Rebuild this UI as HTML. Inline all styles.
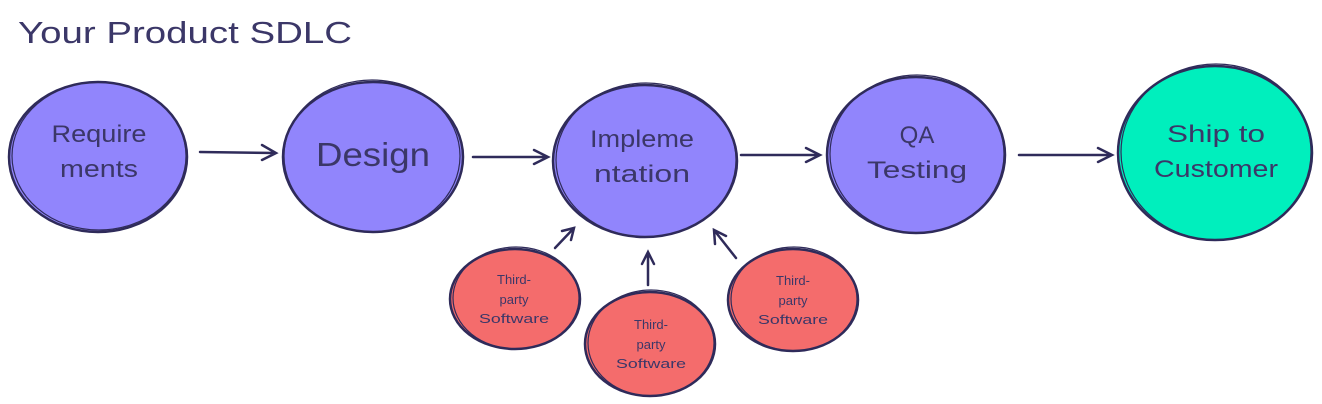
<!DOCTYPE html>
<html><head><meta charset="utf-8"><style>
html,body{margin:0;padding:0;background:#fff;width:1322px;height:404px;overflow:hidden}
svg text{font-family:"Liberation Sans",sans-serif;fill:#3b3768}
</style></head><body>
<svg width="1322" height="404" viewBox="0 0 1322 404" xmlns="http://www.w3.org/2000/svg">
<g stroke="#2f2b5a" stroke-width="2.5">
<ellipse cx="98" cy="157" rx="89" ry="75" fill="#9185fc"/>
<ellipse cx="99" cy="156" rx="87" ry="74" fill="none" stroke-width="1.2"/>
<ellipse cx="373" cy="157" rx="90" ry="75" fill="#9185fc"/>
<ellipse cx="372" cy="156" rx="88" ry="76" fill="none" stroke-width="1.2"/>
<ellipse cx="645" cy="161" rx="92" ry="76" fill="#9185fc"/>
<ellipse cx="646" cy="160" rx="90" ry="77" fill="none" stroke-width="1.2"/>
<ellipse cx="916" cy="155" rx="89" ry="78" fill="#9185fc"/>
<ellipse cx="917" cy="154" rx="87" ry="79" fill="none" stroke-width="1.2"/>
<ellipse cx="1215" cy="153" rx="97" ry="87" fill="#00efbd"/>
<ellipse cx="1216" cy="152" rx="95" ry="88" fill="none" stroke-width="1.2"/>
<ellipse cx="515" cy="299" rx="65" ry="50" fill="#f46c6c"/>
<ellipse cx="516" cy="298" rx="63" ry="51" fill="none" stroke-width="1.2"/>
<ellipse cx="650" cy="344" rx="65" ry="52" fill="#f46c6c"/>
<ellipse cx="651" cy="343" rx="63" ry="53" fill="none" stroke-width="1.2"/>
<ellipse cx="793" cy="300" rx="65" ry="51" fill="#f46c6c"/>
<ellipse cx="794" cy="299" rx="63" ry="52" fill="none" stroke-width="1.2"/>
</g>
<g stroke="#2f2b5a" stroke-width="2.5" fill="none" stroke-linecap="round">
<path d="M200 152 L276 153 M262 145 L276 153 L262 160"/>
<path d="M473 157 L548 157 M534 150 L548 157 L534 164"/>
<path d="M741 155 L820 155 M806 148 L820 155 L806 162"/>
<path d="M1019 155 L1112 155 M1098 148 L1112 155 L1098 162"/>
<path d="M555 248 L574 228 M562 231 L574 228 L571 240"/>
<path d="M648 285 L648 252 M642 264 L648 252 L654 264"/>
<path d="M736 258 L714 230 M715 244 L714 230 L726 236"/>
</g>
<text x="18" y="43" font-size="31" textLength="334" lengthAdjust="spacingAndGlyphs">Your Product SDLC</text>
<g text-anchor="middle">
<text x="99" y="142" font-size="24" textLength="95" lengthAdjust="spacingAndGlyphs">Require</text>
<text x="99" y="177" font-size="24" textLength="78" lengthAdjust="spacingAndGlyphs">ments</text>
<text x="373" y="166" font-size="33" textLength="114" lengthAdjust="spacingAndGlyphs">Design</text>
<text x="642" y="147" font-size="24" textLength="104" lengthAdjust="spacingAndGlyphs">Impleme</text>
<text x="642" y="182" font-size="24" textLength="96" lengthAdjust="spacingAndGlyphs">ntation</text>
<text x="917" y="143" font-size="24">QA</text>
<text x="917" y="178" font-size="24" textLength="100" lengthAdjust="spacingAndGlyphs">Testing</text>
<text x="1216" y="142" font-size="24" textLength="98" lengthAdjust="spacingAndGlyphs">Ship to</text>
<text x="1216" y="177" font-size="24" textLength="124" lengthAdjust="spacingAndGlyphs">Customer</text>
<text x="514" y="284" font-size="13">Third-</text>
<text x="514" y="304" font-size="13">party</text>
<text x="514" y="323" font-size="13" textLength="70" lengthAdjust="spacingAndGlyphs">Software</text>
<text x="651" y="329" font-size="13">Third-</text>
<text x="651" y="349" font-size="13">party</text>
<text x="651" y="368" font-size="13" textLength="70" lengthAdjust="spacingAndGlyphs">Software</text>
<text x="793" y="285" font-size="13">Third-</text>
<text x="793" y="305" font-size="13">party</text>
<text x="793" y="324" font-size="13" textLength="70" lengthAdjust="spacingAndGlyphs">Software</text>
</g>
</svg>
</body></html>
